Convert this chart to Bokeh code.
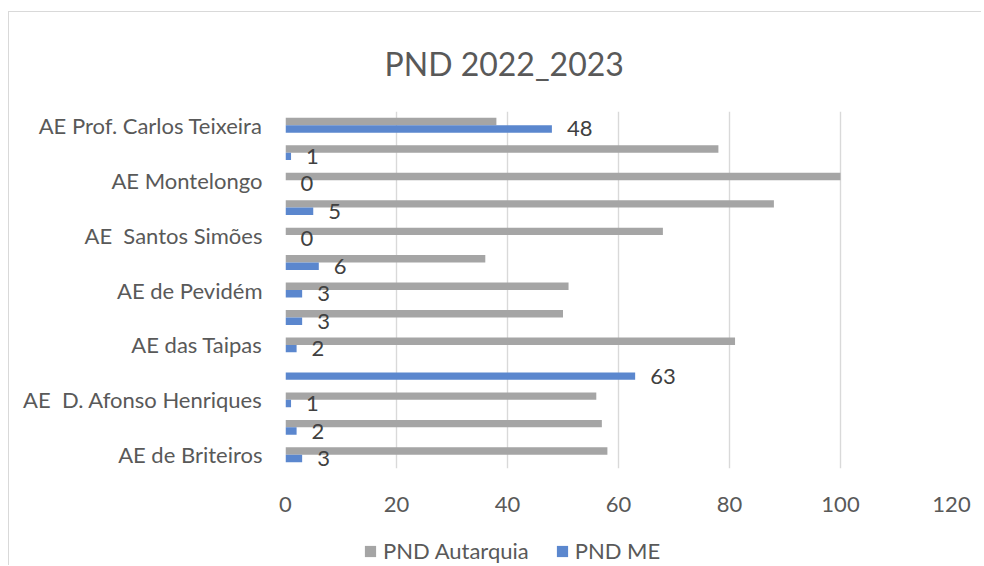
from bokeh.plotting import figure
from bokeh.layouts import column
from bokeh.models import Range1d, FixedTicker, Legend, LegendItem, ColumnDataSource
from bokeh.core.properties import value
from bokeh.embed import file_html
from bokeh.resources import INLINE

# categories from bottom to top; "" = label not shown in the reference
categories = ["AE de Briteiros", "", "AE  D. Afonso Henriques", "", "AE das Taipas", "",
              "AE de Pevidém", "", "AE  Santos Simões", "", "AE Montelongo", "",
              "AE Prof. Carlos Teixeira"]
pnd_autarquia = [58, 57, 56, 0, 81, 50, 51, 36, 68, 88, 100, 78, 38]
pnd_me = [3, 2, 1, 63, 2, 3, 3, 6, 0, 5, 0, 1, 48]
x_ticks = [0, 20, 40, 60, 80, 100, 120]
series_names = ["PND Autarquia", "PND ME"]

FONT = "Lato"
TXT = "#595959"
GRAY = "#A5A5A5"
BLUE = "#5B87CE"
BAR_H = 0.27
FS = "22px"

pos = list(range(len(categories)))
src = ColumnDataSource(dict(
    y=pos,
    ya=[p_ + BAR_H / 2 for p_ in pos],
    yb=[p_ - BAR_H / 2 for p_ in pos],
    a=pnd_autarquia,
    b=pnd_me,
    lab=[str(v) for v in pnd_me],
))

W, H = 972, 512
p = figure(width=W, height=H, output_backend="svg", toolbar_location=None,
           title="PND 2022_2023",
           x_range=Range1d(0, 120), y_range=Range1d(-0.5, len(categories) - 0.5),
           min_border_left=276, min_border_right=W - 276 - 666, min_border_top=99,
           min_border_bottom=H - 99 - 357)
p.outline_line_color = None
p.background_fill_color = "white"
p.border_fill_color = "white"

p.title.align = "left"
p.title.offset = 99
p.title.standoff = 58
p.title.text_font = FONT
p.title.text_font_size = "32px"
p.title.text_font_style = "normal"
p.title.text_color = TXT

p.hbar(y="ya", right="a", left=0, height=BAR_H, source=src, fill_color=GRAY, line_color=None)
p.hbar(y="yb", right="b", left=0, height=BAR_H, source=src, fill_color=BLUE, line_color=None)
p.text(x="b", y="yb", text="lab", source=src, x_offset=15, text_align="left",
       text_baseline="middle", text_font=value(FONT), text_font_size=FS, text_color="#404040")

# axes
p.xaxis.ticker = FixedTicker(ticks=x_ticks)
p.xaxis.axis_line_color = None
p.xaxis.major_tick_line_color = None
p.xaxis.minor_tick_line_color = None
p.xaxis.major_label_standoff = 22
p.xaxis.major_label_text_font = FONT
p.xaxis.major_label_text_font_size = FS
p.xaxis.major_label_text_color = TXT

tick_pos = [i for i, c in enumerate(categories) if c]
p.yaxis.ticker = FixedTicker(ticks=tick_pos)
p.yaxis.major_label_overrides = {i: categories[i].replace("  ", " \u00a0") for i in tick_pos}
p.yaxis.axis_line_color = None
p.yaxis.major_tick_line_color = None
p.yaxis.minor_tick_line_color = None
p.yaxis.major_label_standoff = 17
p.yaxis.major_label_text_font = FONT
p.yaxis.major_label_text_font_size = FS
p.yaxis.major_label_text_color = TXT

p.xgrid.ticker = FixedTicker(ticks=x_ticks)
p.xgrid.grid_line_color = "#D9D9D9"
p.xgrid.grid_line_width = 1.4
p.ygrid.grid_line_color = None

# legend strip below the chart (zero-height proxy bars: nothing visible is drawn)
H2 = 41
lg = figure(width=W, height=H2, output_backend="svg", toolbar_location=None,
            x_range=Range1d(0, 120), y_range=Range1d(-0.5, len(categories) - 0.5),
            x_axis_location=None, y_axis_location=None,
            min_border_left=0, min_border_right=0, min_border_top=0, min_border_bottom=0)
lg.outline_line_color = None
lg.xgrid.visible = False
lg.ygrid.visible = False
lg.border_fill_color = "white"
la = lg.hbar(y="ya", right="a", left=0, height=0, source=src, fill_color=GRAY, line_color=None)
lb = lg.hbar(y="yb", right="b", left=0, height=0, source=src, fill_color=BLUE, line_color=None)
legend = Legend(items=[LegendItem(label=series_names[0], renderers=[la]),
                       LegendItem(label=series_names[1], renderers=[lb])],
                orientation="horizontal", location=(78, 1), padding=0, margin=0,
                glyph_width=14, glyph_height=14, label_standoff=6, spacing=26,
                label_text_font=FONT, label_text_font_size=FS, label_text_color=TXT,
                border_line_color=None, background_fill_alpha=0)
lg.add_layout(legend, "center")

layout = column(p, lg, spacing=0,
                styles={"margin-left": "8px", "margin-top": "11px",
                        "border-left": "1px solid #D9D9D9", "border-top": "1px solid #D9D9D9"})

open("out.html", "w").write(file_html(layout, INLINE))
